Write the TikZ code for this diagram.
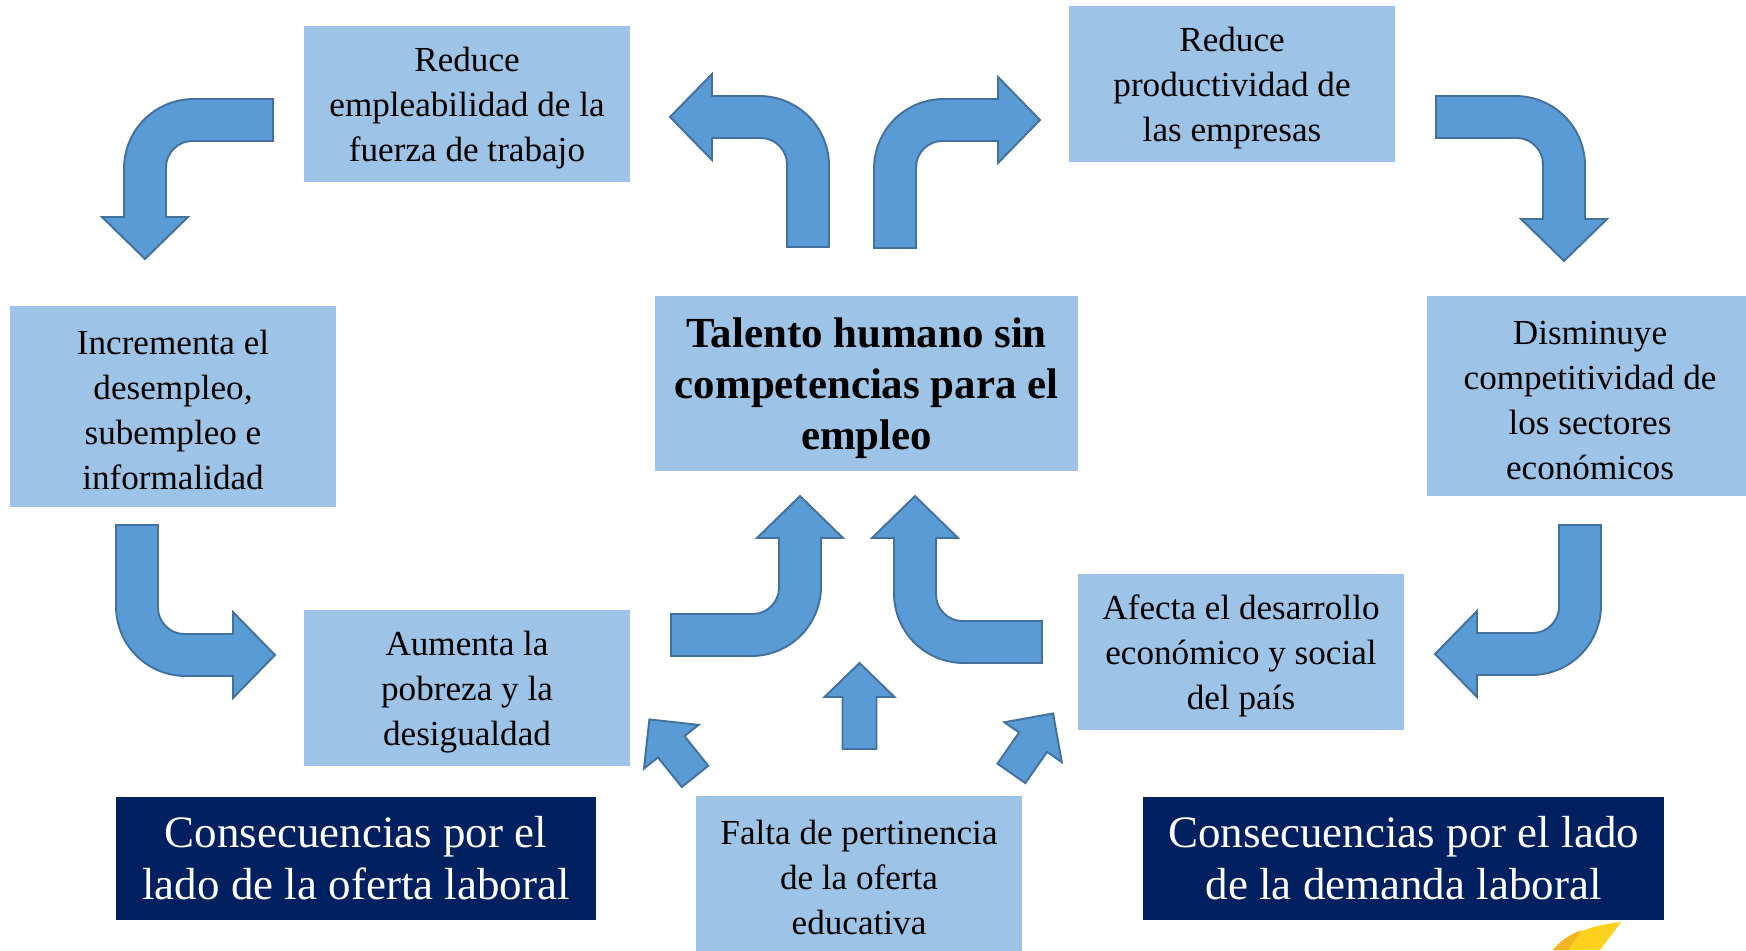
\documentclass[tikz,border=0pt]{standalone}
\usepackage{fontspec}
\setmainfont{Liberation Serif}
\usepackage{xcolor}

\definecolor{boxblue}{HTML}{9DC3E6}
\definecolor{arrowblue}{HTML}{5B9BD5}
\definecolor{arrowline}{HTML}{41719C}
\definecolor{navy}{HTML}{002060}
\definecolor{sunA}{HTML}{FDD11E}
\definecolor{sunB}{HTML}{F3B522}

% pushes the lines down a little, as in the original boxes
\newcommand{\firststrut}{\rule{0pt}{0.9em}}

\tikzset{
  effectbox/.style={fill=boxblue, inner sep=0pt, align=center,
    minimum width=6.52cm, minimum height=3.12cm,
    font=\fontsize{20}{25.6}\selectfont},
  problembox/.style={effectbox, minimum width=8.46cm, minimum height=3.5cm,
    font=\fontsize{24.4}{29}\selectfont\bfseries},
  sidebox/.style={fill=navy, text=white, inner sep=0pt, align=center,
    minimum height=2.46cm, font=\fontsize{25.6}{29.6}\selectfont},
  arrowshape/.style={fill=arrowblue, draw=arrowline, line width=1.1pt},
}

% bent block arrow: origin (outer corner), transform, tail length, head position
\newcommand{\bentarrow}[4]{%
  \begin{scope}[shift={#1},#2]
    \draw[arrowshape] (0,#3) -- (0,70) .. controls (0,31) and (31,0) .. (70,0)
      -- (#4,0) -- (#4,-22) -- ({#4+42},21) -- (#4,64) -- (#4,42) -- (68,42)
      .. controls (54,42) and (42,54) .. (42,68) -- (42,#3) -- cycle;
  \end{scope}}

% straight block arrow: tail, angle, head base, tip
\newcommand{\straightblock}[4]{%
  \begin{scope}[shift={#1},rotate=#2]
    \draw[arrowshape] (0,-17) -- (#3,-17) -- (#3,-35) -- (#4,0) -- (#3,35)
      -- (#3,17) -- (0,17) -- cycle;
  \end{scope}}

\begin{document}
\begin{tikzpicture}[x=0.02cm,y=-0.02cm]

  \useasboundingbox (0,0) rectangle (1746,950);
  \clip (0,0) rectangle (1746,950);

  % boxes
  \node[problembox] (talento) at (866.5,383.5) {\firststrut Talento humano sin\\competencias para el\\empleo};
  \node[effectbox] (empleab) at (467,104) {\firststrut Reduce\\empleabilidad de la\\fuerza de trabajo};
  \node[effectbox] (product) at (1232,84) {\firststrut Reduce\\productividad de\\las empresas};
  \node[effectbox, minimum height=4.02cm] (desempleo) at (173,406.5) {\firststrut Incrementa el\\desempleo,\\subempleo e\\informalidad};
  \node[effectbox, minimum height=4cm] (competit) at (1590,396) {\firststrut Disminuye\\competitividad de\\los sectores\\económicos};
  \node[effectbox] (pobreza) at (467,688) {\firststrut Aumenta la\\pobreza y la\\desigualdad};
  \node[effectbox] (desarrollo) at (1241,652) {\firststrut Afecta el desarrollo\\económico y social\\del país};
  \node[effectbox] (pertinencia) at (859,874) {\firststrut Falta de pertinencia\\de la oferta\\educativa};

  \node[sidebox, minimum width=9.6cm] (oferta) at (356,858.5) {Consecuencias por el\\lado de la oferta laboral};
  \node[sidebox, minimum width=10.42cm] (demanda) at (1403.5,858.5) {Consecuencias por el lado\\de la demanda laboral};

  % bent arrows
  \bentarrow{(874,99)}{}{149}{124}
  \bentarrow{(829,96)}{xscale=-1}{151}{117}
  \bentarrow{(124,99)}{cm={0,-1,-1,0,(0,0)}}{149}{118}
  \bentarrow{(1585,96)}{cm={0,-1,1,0,(0,0)}}{149}{123}
  \bentarrow{(116,676)}{yscale=-1}{151}{117}
  \bentarrow{(1601,675)}{xscale=-1,yscale=-1}{150}{124}
  \bentarrow{(821,656)}{cm={0,1,1,0,(0,0)}}{150}{118}
  \bentarrow{(894,663)}{cm={0,1,-1,0,(0,0)}}{148}{125}

  % straight arrows
  \straightblock{(859.5,749)}{90}{52}{86}
  \straightblock{(695,776.4)}{128.7}{38}{73}
  \straightblock{(1011.4,773.4)}{55.2}{38}{73}

  % logo corner
  \fill[sunA] (1621,922) -- (1600,950) -- (1553,950)
    .. controls (1568,934) and (1592,925) .. (1621,922) -- cycle;
  \fill[sunB] (1553,950) .. controls (1560,941) and (1570,934) .. (1582,930)
    -- (1568,950) -- cycle;

\end{tikzpicture}
\end{document}
